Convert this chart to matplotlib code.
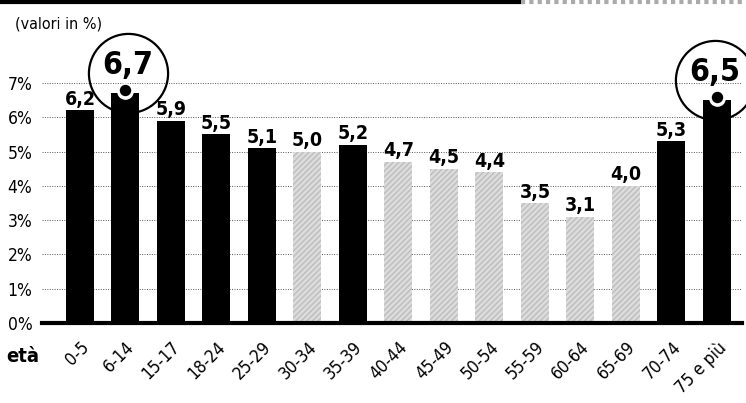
import matplotlib
matplotlib.use("Agg")
import matplotlib.pyplot as plt
from matplotlib.lines import Line2D
from matplotlib.transforms import ScaledTranslation

categories = ["0-5", "6-14", "15-17", "18-24", "25-29", "30-34", "35-39", "40-44",
              "45-49", "50-54", "55-59", "60-64", "65-69", "70-74", "75 e più"]
values = [6.2, 6.7, 5.9, 5.5, 5.1, 5.0, 5.2, 4.7, 4.5, 4.4, 3.5, 3.1, 4.0, 5.3, 6.5]
dark = [True, True, True, True, True, False, True, False, False, False, False, False, False, True, True]
highlight = [False, True] + [False] * 12 + [True]
yticks = [0, 1, 2, 3, 4, 5, 6, 7]
ytick_labels = ["0%", "1%", "2%", "3%", "4%", "5%", "6%", "7%"]

plt.rcParams['font.family'] = ["DejaVu Sans"]
plt.rcParams['font.stretch'] = "condensed"
ST = "condensed"

fig = plt.figure(figsize=(7.46, 4.03), dpi=100)
W, H = 746, 403
x0, x1 = 42, 742
ybot, ytop = 323, 40
ax = fig.add_axes([x0 / W, (H - ybot) / H, (x1 - x0) / W, (ybot - ytop) / H])

ppu = 34.3
ax.set_ylim(0, (ybot - ytop) / ppu)
ax.set_xlim(-0.835, 14.55)

xs = list(range(len(categories)))
colors = ["black" if d else "#dcdcdc" for d in dark]
bars = ax.bar(xs, values, width=0.615, color=colors, zorder=2)
for b, d in zip(bars, dark):
    if not d:
        b.set_hatch("//////")
        b.set_edgecolor("#bdbdbd")
        b.set_linewidth(0)

ax.set_yticks(yticks)
ax.set_yticklabels(ytick_labels, fontsize=12.5, fontstretch=ST)
ax.grid(axis="y", linestyle=(0, (1, 1.5)), color="#555555", linewidth=0.7, zorder=0)
for s in ["left", "right", "top"]:
    ax.spines[s].set_visible(False)
ax.spines["bottom"].set_linewidth(3)
ax.spines["bottom"].set_zorder(3)
ax.tick_params(axis="both", length=0)
ax.tick_params(axis="y", pad=7)

ax.set_xticks(xs)
ax.set_xticklabels(categories, rotation=45, ha="right", va="top",
                   rotation_mode="anchor", fontsize=12.5, fontstretch=ST)
off = ScaledTranslation(1 / 100, 0, fig.dpi_scale_trans)
for lab in ax.get_xticklabels():
    lab.set_transform(lab.get_transform() + off)
ax.tick_params(axis="x", pad=11)

for x, v, h in zip(xs, values, highlight):
    lab = f"{v:.1f}".replace(".", ",")
    if h:
        cx = x - 0.05 if x == 14 else x + 0.05
        cy = v + 0.58
        ax.plot([cx], [cy], marker="o", markersize=57, markerfacecolor="none",
                markeredgecolor="black", markeredgewidth=1.6, zorder=4, clip_on=False)
        ax.text(cx, cy + 0.22, lab, ha="center", va="center",
                fontsize=23, fontweight="bold", fontstretch=ST, zorder=5)
        ax.plot([x], [v + 0.06], marker="o", markersize=11, color="white", zorder=3,
                clip_on=False)
        ax.plot([x], [v + 0.1], marker="o", markersize=7.2, color="black", zorder=4,
                clip_on=False)
    else:
        ax.text(x, v + 0.04, lab, ha="center", va="bottom",
                fontsize=14, fontweight="bold", fontstretch=ST, zorder=5)

fig.text(15 / W, 1 - 24 / H, "(valori in %)", fontsize=11.5, fontstretch=ST,
         va="center", ha="left")
fig.text(6 / W, 1 - 356 / H, "età", fontsize=14.5, fontweight="bold", fontstretch=ST,
         va="center", ha="left")

fig.add_artist(Line2D([0, 521 / W], [1 - 1.5 / H, 1 - 1.5 / H], color="black", linewidth=3,
                      transform=fig.transFigure))
fig.add_artist(Line2D([521 / W, 1], [1 - 1.5 / H, 1 - 1.5 / H], color="#aaaaaa", linewidth=3,
                      linestyle=(0, (1, 1)), transform=fig.transFigure))

fig.savefig("out.png", dpi=100)
